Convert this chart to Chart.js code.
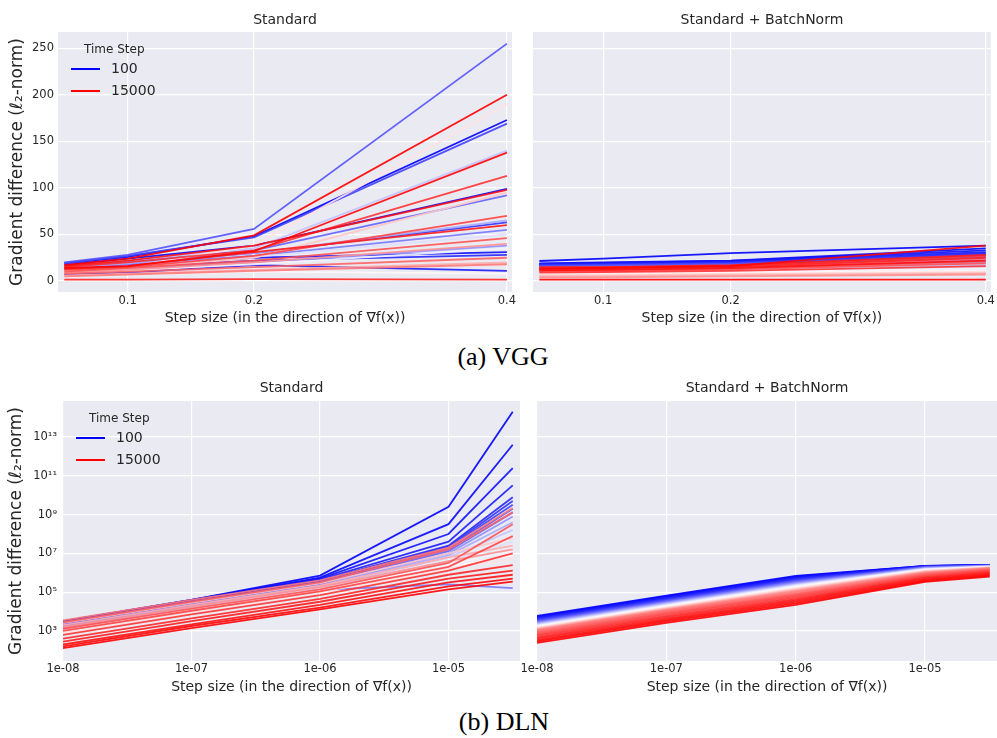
<!DOCTYPE html>
<html>
<head>
<meta charset="utf-8">
<script src="https://cdn.jsdelivr.net/npm/chart.js@4.4.0/dist/chart.umd.min.js"></script>
<style>
  html, body { margin: 0; padding: 0; background: #fff; }
  body { width: 997px; height: 738px; position: relative; overflow: hidden; }
  canvas { position: absolute; }
  .caption {
    position: absolute;
    font-family: 'Liberation Serif', 'DejaVu Serif', serif;
    font-size: 26px;
    color: #000;
    transform: translate(-50%, -50%);
    white-space: nowrap;
  }
</style>
</head>
<body>
<canvas id="vgg-standard" width="520" height="335" style="left:0;top:0"></canvas>
<canvas id="vgg-batchnorm" width="477" height="335" style="left:520px;top:0"></canvas>
<div class="caption" style="left:503px;top:357px">(a) VGG</div>
<canvas id="dln-standard" width="522" height="335" style="left:0;top:370px"></canvas>
<canvas id="dln-batchnorm" width="485" height="335" style="left:512px;top:370px"></canvas>
<div class="caption" style="left:504px;top:722px">(b) DLN</div>

<script>
// time steps at which the gradient difference was measured (one line each)
const timeSteps = [100, 300, 600, 900, 1200, 1600, 2000, 2500, 3000, 3600,
                   4300, 5000, 5800, 6600, 7200, 7800, 8400, 9200, 10000, 10800,
                   11500, 12100, 12600, 13100, 13500, 13900, 14200, 14500, 14800, 15000];

// x values (step sizes)
const vggSteps = [0.05, 0.1, 0.2, 0.4];
const dlnSteps = [1e-8, 1e-7, 1e-6, 1e-5, 3.16e-5];

// tick values / labels
const vggTicksX = [0.1, 0.2, 0.4];
const vggLabelsX = ['0.1', '0.2', '0.4'];
const vggTicksY = [0, 50, 100, 150, 200, 250];
const vggLabelsY = ['0', '50', '100', '150', '200', '250'];
const dlnTicksX = [1e-8, 1e-7, 1e-6, 1e-5];
const dlnLabelsX = ['1e-08', '1e-07', '1e-06', '1e-05'];
const dlnTicksY = [1e3, 1e5, 1e7, 1e9, 1e11, 1e13];
const dlnLabelsY = ['10³', '10⁵', '10⁷', '10⁹', '10¹¹', '10¹³'];

// VGG, standard: one row per time step, values at vggSteps
const vggStandard = [
  [19, 26, 48, 173], [17, 24, 38, 99], [12, 17, 25, 31], [7, 9, 17, 11], [11, 15, 22, 28],
  [14, 20, 30, 63], [19, 27, 47, 169], [20, 28, 56, 255], [15, 21, 33, 92], [13, 18, 27, 55],
  [10, 13, 20, 38], [14, 19, 30, 65], [16, 22, 35, 140], [12, 16, 26, 50], [9, 12, 18, 35],
  [5, 7, 10, 8], [11, 15, 38, 190], [10, 14, 25, 95], [6, 8, 12, 20], [9, 12, 20, 40],
  [5, 7, 11, 18], [8, 10, 15, 25], [10, 14, 22, 46], [12, 15, 27, 70], [15, 20, 33, 113],
  [1.5, 1.5, 2, 1.5], [13, 16, 31, 60], [16, 22, 38, 98], [14, 16, 32, 138], [17, 24, 49, 200]
];

// VGG, standard + BatchNorm
const vggBatchNorm = [
  [21.5, 24, 30, 38], [19, 20, 22, 35], [18.5, 19.5, 21.5, 33], [18, 19, 21, 31], [17.5, 18, 20, 30],
  [17, 17.5, 19.5, 29], [16.5, 17, 19, 27], [16, 16.5, 18, 26], [15, 15.5, 17, 24], [14, 14.5, 16, 22],
  [13, 13.5, 15, 20], [12, 12.5, 14, 19], [11, 11.5, 13, 17], [10, 10, 11.5, 15], [9, 9, 10, 13],
  [8, 8, 9, 11], [7, 7, 8, 10], [6, 6, 7, 9], [5, 5, 6, 8], [4, 4, 5, 7],
  [12, 12.5, 14, 24], [11, 11.5, 13, 21], [10, 10.5, 12.5, 19], [14, 14.5, 16, 27], [9, 9.5, 11, 16],
  [13, 13.5, 15.5, 25], [15, 15, 17, 28], [11.5, 12, 14, 22], [13, 14, 16, 38], [1.5, 1.5, 1.5, 1.5]
];

// DLN, standard: values at dlnSteps
const dlnStandard = [
  [3.2e3, 4.0e4, 7.1e5, 2.5e9, 2.0e14], [3.2e3, 4.0e4, 5.6e5, 3.2e8, 4.0e12],
  [2.8e3, 3.5e4, 5.0e5, 1.0e8, 2.5e11], [2.5e3, 3.2e4, 4.5e5, 4.0e7, 3.2e10],
  [2.5e3, 3.2e4, 4.0e5, 2.5e7, 7.9e9], [2.2e3, 2.8e4, 3.5e5, 2.2e7, 5.0e9],
  [2.0e3, 2.5e4, 3.2e5, 2.0e7, 3.2e9], [2.0e3, 2.5e4, 2.8e5, 1.6e7, 2.0e9],
  [1.8e3, 2.2e4, 2.5e5, 1.3e7, 1.3e9], [1.0e3, 1.3e4, 1.3e5, 2.5e5, 1.6e5],
  [1.6e3, 2.0e4, 2.2e5, 1.0e7, 7.9e8], [1.4e3, 1.8e4, 2.0e5, 7.9e6, 4.0e8],
  [1.3e3, 1.6e4, 1.8e5, 6.3e6, 1.6e8], [1.1e3, 1.4e4, 1.6e5, 4.0e6, 4.0e7],
  [1.0e3, 1.3e4, 1.3e5, 2.5e6, 1.3e7], [8.9e2, 1.1e4, 1.1e5, 2.0e6, 7.9e6],
  [7.9e2, 1.0e4, 1.0e5, 1.6e6, 5.0e6], [2.5e3, 2.8e4, 2.8e5, 1.0e7, 6.3e7],
  [2.0e3, 2.2e4, 2.2e5, 6.3e6, 2.5e7], [1.6e3, 1.8e4, 1.8e5, 4.0e6, 1.6e7],
  [3.5e3, 4.0e4, 4.0e5, 2.0e7, 2.2e9], [2.8e3, 3.2e4, 3.2e5, 1.6e7, 1.3e9],
  [1.3e3, 1.4e4, 1.4e5, 3.2e6, 3.2e8], [1.0e3, 1.1e4, 1.1e5, 2.0e6, 7.9e7],
  [6.3e2, 7.1e3, 7.1e4, 1.3e6, 1.0e7], [4.0e2, 4.5e3, 4.5e4, 7.9e5, 2.5e6],
  [2.8e2, 3.2e3, 3.2e4, 5.0e5, 1.3e6], [2.0e2, 2.2e3, 2.2e4, 3.2e5, 7.9e5],
  [1.6e2, 1.8e3, 1.6e4, 2.0e5, 5.0e5], [1.3e2, 1.4e3, 1.3e4, 1.4e5, 3.5e5]
];

// DLN, standard + BatchNorm
const dlnBatchNorm = [
  [6.0e3, 6.6e4, 6.9e5, 2.29e6, 2.57e6], [5.5e3, 6.0e4, 6.3e5, 2.24e6, 2.51e6],
  [5.0e3, 5.5e4, 5.75e5, 2.19e6, 2.51e6], [4.57e3, 5.0e4, 5.25e5, 2.14e6, 2.45e6],
  [4.17e3, 4.57e4, 4.79e5, 2.09e6, 2.45e6], [3.8e3, 4.17e4, 4.37e5, 2.04e6, 2.4e6],
  [3.55e3, 3.89e4, 4.07e5, 2.0e6, 2.4e6], [3.31e3, 3.63e4, 3.8e5, 1.95e6, 2.34e6],
  [3.02e3, 3.31e4, 3.47e5, 1.91e6, 2.34e6], [2.82e3, 3.09e4, 3.24e5, 1.86e6, 2.29e6],
  [2.63e3, 2.88e4, 2.95e5, 1.78e6, 2.24e6], [2.4e3, 2.63e4, 2.69e5, 1.7e6, 2.19e6],
  [2.19e3, 2.4e4, 2.45e5, 1.62e6, 2.14e6], [2.0e3, 2.19e4, 2.24e5, 1.55e6, 2.09e6],
  [1.82e3, 2.0e4, 2.04e5, 1.48e6, 2.04e6], [1.66e3, 1.82e4, 1.82e5, 1.38e6, 2.0e6],
  [1.51e3, 1.66e4, 1.62e5, 1.29e6, 1.95e6], [1.38e3, 1.51e4, 1.45e5, 1.2e6, 1.91e6],
  [1.26e3, 1.38e4, 1.29e5, 1.12e6, 1.82e6], [1.15e3, 1.26e4, 1.15e5, 1.05e6, 1.74e6],
  [1.05e3, 1.15e4, 1.0e5, 9.55e5, 1.66e6], [8.91e2, 9.77e3, 8.51e4, 8.51e5, 1.51e6],
  [7.59e2, 8.32e3, 7.24e4, 7.59e5, 1.38e6], [6.46e2, 7.08e3, 6.17e4, 6.76e5, 1.26e6],
  [5.5e2, 6.03e3, 5.25e4, 6.03e5, 1.12e6], [4.68e2, 5.13e3, 4.37e4, 5.37e5, 1.0e6],
  [3.98e2, 4.37e3, 3.72e4, 4.79e5, 8.91e5], [3.39e2, 3.72e3, 3.16e4, 4.27e5, 7.94e5],
  [2.88e2, 3.16e3, 2.63e4, 3.8e5, 7.08e5], [2.4e2, 2.63e3, 2.19e4, 3.39e5, 6.31e5]
];

Chart.defaults.font.family = "'DejaVu Sans', sans-serif";
Chart.defaults.color = '#262626';

// matplotlib "bwr": blue -> white -> red over the time-step range
function bwr(step, alpha) {
  const lo = timeSteps[0], hi = timeSteps[timeSteps.length - 1];
  const t = (step - lo) / (hi - lo);
  let r, g, b;
  if (t < 0.5) { r = g = Math.round(510 * t); b = 255; }
  else { r = 255; g = b = Math.round(510 * (1 - t)); }
  return `rgba(${r}, ${g}, ${b}, ${alpha})`;
}

const plotBackground = {
  id: 'plotBackground',
  beforeDraw(chart) {
    const { ctx, chartArea: a } = chart;
    ctx.save();
    ctx.fillStyle = '#EAEAF2';
    ctx.fillRect(a.left, a.top, a.right - a.left, a.bottom - a.top);
    ctx.restore();
  }
};

// legend drawn inside the plot, top-left, like the matplotlib one
const insideLegend = {
  id: 'insideLegend',
  afterDatasetsDraw(chart, args, opts) {
    if (!opts.show) return;
    const { ctx, chartArea: a } = chart;
    const first = timeSteps[0], last = timeSteps[timeSteps.length - 1];
    const items = [[String(first), bwr(first, 1)], [String(last), bwr(last, 1)]];
    ctx.save();
    ctx.fillStyle = '#262626';
    ctx.textBaseline = 'middle';
    ctx.font = "12px 'DejaVu Sans'";
    ctx.fillText('Time Step', a.left + 26, a.top + 18);
    ctx.font = "14px 'DejaVu Sans'";
    items.forEach(([label, color], k) => {
      const y = a.top + 37 + k * 22;
      ctx.strokeStyle = color;
      ctx.lineWidth = 2;
      ctx.beginPath();
      ctx.moveTo(a.left + 13, y);
      ctx.lineTo(a.left + 42, y);
      ctx.stroke();
      ctx.fillStyle = '#262626';
      ctx.fillText(label, a.left + 53, y);
    });
    ctx.restore();
  }
};

function makeChart(id, p) {
  const n = p.series.length;
  new Chart(document.getElementById(id), {
    type: 'line',
    data: {
      datasets: p.series.map((vals, i) => ({
        label: String(timeSteps[i]),
        data: p.steps.map((x, j) => ({ x: x, y: vals[j] })),
        borderColor: bwr(timeSteps[i], 0.9),
        borderWidth: 1.8,
        pointRadius: 0,
        tension: 0,
        fill: false,
        order: n - 1 - i
      }))
    },
    options: {
      responsive: false,
      animation: false,
      events: [],
      layout: { padding: { right: p.padRight } },
      plugins: {
        legend: { display: false },
        tooltip: { enabled: false },
        title: {
          display: true,
          text: p.title,
          fullSize: false,
          font: { size: 14, weight: 'normal' },
          color: '#262626',
          padding: p.titlePad
        },
        insideLegend: { show: p.legend }
      },
      scales: {
        x: {
          type: p.xType,
          min: p.xMin,
          max: p.xMax,
          afterBuildTicks: s => { s.ticks = p.xTicks.map(v => ({ value: v })); },
          afterFit: s => { s.height = p.xHeight; },
          ticks: {
            callback: (v, i) => p.xLabels[i],
            font: { size: 11.5 },
            padding: p.xTickPad,
            maxRotation: 0,
            autoSkip: false
          },
          grid: { color: '#ffffff', lineWidth: 1.2, drawTicks: false },
          border: { display: false },
          title: {
            display: true,
            text: 'Step size (in the direction of ∇f(x))',
            font: { size: 14 },
            padding: { top: 0, bottom: p.xTitlePad }
          }
        },
        y: {
          type: p.yType,
          min: p.yMin,
          max: p.yMax,
          afterBuildTicks: s => { s.ticks = p.yTicks.map(v => ({ value: v })); },
          afterFit: s => { s.width = p.yWidth; },
          ticks: {
            display: p.showY,
            callback: (v, i) => p.yLabels[i],
            font: { size: 11.5 },
            padding: p.yTickPad,
            autoSkip: false
          },
          grid: { color: '#ffffff', lineWidth: 1.2, drawTicks: false },
          border: { display: false },
          title: {
            display: p.showY,
            text: 'Gradient difference (ℓ₂-norm)',
            font: { size: 17 },
            padding: { top: p.yTitlePad, bottom: 0 }
          }
        }
      }
    },
    plugins: [plotBackground, insideLegend]
  });
}

const vggAxes = {
  steps: vggSteps, xType: 'linear', xMin: 0.045, xMax: 0.404,
  xTicks: vggTicksX, xLabels: vggLabelsX,
  yType: 'linear', yMin: -11.8, yMax: 267.5, yTicks: vggTicksY, yLabels: vggLabelsY,
  xHeight: 43, xTickPad: 2, xTitlePad: 8.6,
  titlePad: { top: 11.6, bottom: 3.6 }
};
const dlnAxes = {
  steps: dlnSteps, xType: 'logarithmic', xMin: 1e-8, xMax: 3.6e-5,
  xTicks: dlnTicksX, xLabels: dlnLabelsX,
  yType: 'logarithmic', yMin: 28.2, yMax: 7.2e14, yTicks: dlnTicksY, yLabels: dlnLabelsY,
  xHeight: 44, xTickPad: 1, xTitlePad: 9.6,
  titlePad: { top: 9.6, bottom: 4.6 }
};

makeChart('vgg-standard', Object.assign({}, vggAxes, {
  series: vggStandard, title: 'Standard', legend: true, showY: true,
  yWidth: 58, yTickPad: 4, yTitlePad: 7.8, padRight: 8
}));
makeChart('vgg-batchnorm', Object.assign({}, vggAxes, {
  series: vggBatchNorm, title: 'Standard + BatchNorm', legend: false, showY: false,
  yWidth: 13, yTickPad: 4, yTitlePad: 0, padRight: 4
}));
makeChart('dln-standard', Object.assign({}, dlnAxes, {
  series: dlnStandard, title: 'Standard', legend: true, showY: true,
  yWidth: 63, yTickPad: 6, yTitlePad: 6.8, padRight: 2
}));
makeChart('dln-batchnorm', Object.assign({}, dlnAxes, {
  series: dlnBatchNorm, title: 'Standard + BatchNorm', legend: false, showY: false,
  yWidth: 25, yTickPad: 4, yTitlePad: 0, padRight: 0
}));
</script>
</body>
</html>
